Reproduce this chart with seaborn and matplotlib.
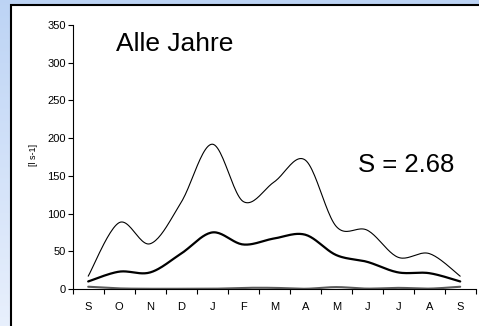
import numpy as np
import pandas as pd
import matplotlib
matplotlib.use("Agg")
import matplotlib.pyplot as plt
from matplotlib.patches import Rectangle
import seaborn as sns

# Monthly discharge over the hydrological year (September to September)
months = ["S", "O", "N", "D", "J", "F", "M", "A", "M", "J", "J", "A", "S"]
q_max = [17, 88, 60, 115, 192, 116, 142, 171, 83, 78, 42, 47, 17]
q_mean = [10, 23, 22, 47, 75, 59, 67, 72, 45, 36, 22, 21, 10]
q_min = [3, 0.8, 0.3, 0.3, 0.3, 1.5, 1.5, 0.3, 2.5, 0.5, 1.5, 0.5, 3]
title_text = "Alle Jahre"
stat_text = "S = 2.68"
y_label = "[l s-1]"

sns.set_theme(style="ticks")
plt.rcParams["font.family"] = ["Liberation Sans", "DejaVu Sans"]

W, H, DPI = 479, 326, 100
fig = plt.figure(figsize=(W / DPI, H / DPI), dpi=DPI)

# light blue backdrop with a white framed panel on top
bg = fig.add_axes([0, 0, 1, 1], zorder=-10)
grad = np.linspace(0, 1, 256)[:, None]
c_top = np.array([0.74, 0.83, 0.96])
c_bot = np.array([0.91, 0.94, 0.99])
img = c_top[None, None, :] * (1 - grad[..., None]) + c_bot[None, None, :] * grad[..., None]
bg.imshow(np.repeat(img, 2, axis=1), aspect="auto", extent=[0, 1, 0, 1])
bg.set_axis_off()
fig.patches.append(Rectangle((10.5 / W, -0.1), 1.2, 1 - 4.5 / H + 0.1,
                             transform=fig.transFigure, facecolor="white",
                             edgecolor="black", linewidth=1.5, zorder=-5))

ax = fig.add_axes([72.7 / W, 1 - 289 / H, (475.7 - 72.7) / W, (289 - 25) / H])
ax.set_facecolor("none")


def smoothed(xs, ys, steps=24):
    """Bezier-smoothed line through the points, spreadsheet style."""
    p = np.column_stack([xs, ys]).astype(float)
    ext = np.vstack([p[0], p, p[-1]])
    out = []
    t = np.linspace(0, 1, steps)[:, None]
    for i in range(len(p) - 1):
        p0, p1, p2, p3 = ext[i], ext[i + 1], ext[i + 2], ext[i + 3]
        c1 = p1 + (p2 - p0) / 6
        c2 = p2 - (p3 - p1) / 6
        seg = ((1 - t) ** 3) * p1 + 3 * ((1 - t) ** 2) * t * c1 + 3 * (1 - t) * t ** 2 * c2 + t ** 3 * p2
        out.append(seg if i == 0 else seg[1:])
    s = np.vstack(out)
    return pd.DataFrame({"x": s[:, 0], "y": s[:, 1]})


xs = np.arange(len(months))
for vals, lw, col in [(q_min, 1.5, "#5a5a5a"), (q_max, 0.8, "black"), (q_mean, 1.6, "black")]:
    d = smoothed(xs, vals)
    sns.lineplot(data=d, x="x", y="y", ax=ax, color=col, linewidth=lw,
                 sort=False, estimator=None, clip_on=False)

ax.set_xlim(-0.5, len(months) - 0.5)
ax.set_ylim(0, 350)
ax.set_yticks(np.arange(0, 351, 50))
ax.set_xticks(np.arange(-0.5, len(months), 1.0))
ax.set_xticklabels([])
ax.set_xticks(xs, minor=True)
ax.set_xticklabels(months, minor=True)
ax.tick_params(axis="x", which="major", length=3.5, width=0.8, color="black", direction="out")
ax.tick_params(axis="x", which="minor", length=0, pad=9, labelsize=8, labelcolor="black")
ax.tick_params(axis="y", length=3.5, width=0.8, color="black", direction="out",
               pad=1.5, labelsize=8, labelcolor="black")
ax.set_xlabel("")
ax.set_ylabel("")
for side in ["top", "right"]:
    ax.spines[side].set_visible(False)
for side in ["left", "bottom"]:
    ax.spines[side].set_color("black")
    ax.spines[side].set_linewidth(0.8)

fig.text(116 / W, 1 - 51 / H, title_text, fontsize=19, color="black",
         ha="left", va="baseline")
fig.text(358 / W, 1 - 172 / H, stat_text, fontsize=18.5, color="black",
         ha="left", va="baseline")
fig.text(33 / W, 1 - 155 / H, y_label, fontsize=6.5, color="black",
         rotation=90, ha="center", va="center")

fig.savefig("out.png", dpi=DPI)
